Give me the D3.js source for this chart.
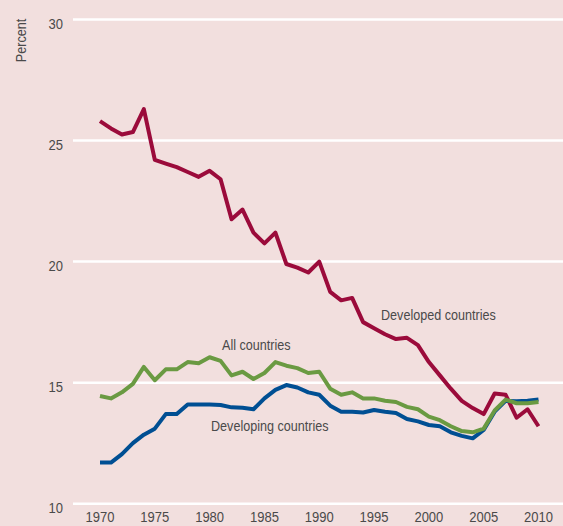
<!DOCTYPE html>
<html>
<head>
<meta charset="utf-8">
<script src="https://cdn.jsdelivr.net/npm/d3@7"></script>
<style>
	body { margin: 0; background: #f2dfde; }
	svg { display: block; }
	text { font-family: "Liberation Sans", Arial, sans-serif; fill: #4a4a4a; }
</style>
</head>
<body>
<script>

var years = [1970, 1971, 1972, 1973, 1974, 1975, 1976, 1977, 1978, 1979,
	1980, 1981, 1982, 1983, 1984, 1985, 1986, 1987, 1988, 1989,
	1990, 1991, 1992, 1993, 1994, 1995, 1996, 1997, 1998, 1999,
	2000, 2001, 2002, 2003, 2004, 2005, 2006, 2007, 2008, 2009, 2010];

var developed = [25.8, 25.5, 25.25, 25.35, 26.3, 24.2, 24.05, 23.9, 23.7, 23.5,
	23.75, 23.4, 21.75, 22.15, 21.2, 20.75, 21.2, 19.9, 19.75, 19.55,
	20.0, 18.75, 18.4, 18.5, 17.5, 17.25, 17.0, 16.8, 16.85, 16.55,
	15.85, 15.3, 14.75, 14.25, 13.95, 13.7, 14.55, 14.5, 13.55, 13.9, 13.2];

var allCountries = [14.45, 14.35, 14.6, 14.95, 15.65, 15.1, 15.55, 15.55, 15.85, 15.8,
	16.05, 15.9, 15.3, 15.45, 15.15, 15.4, 15.85, 15.7, 15.6, 15.4,
	15.45, 14.75, 14.5, 14.6, 14.35, 14.35, 14.25, 14.2, 14.0, 13.9,
	13.6, 13.45, 13.2, 13.0, 12.95, 13.1, 13.85, 14.3, 14.15, 14.15, 14.2];

var developing = [11.7, 11.7, 12.05, 12.5, 12.85, 13.1, 13.7, 13.7, 14.1, 14.1,
	14.1, 14.08, 13.98, 13.96, 13.9, 14.35, 14.7, 14.9, 14.8, 14.6,
	14.5, 14.05, 13.8, 13.8, 13.77, 13.87, 13.8, 13.75, 13.5, 13.4,
	13.25, 13.2, 12.95, 12.8, 12.7, 13.05, 13.8, 14.25, 14.23, 14.25, 14.3];

var yTicks = [10, 15, 20, 25, 30];
var xTicks = [1970, 1975, 1980, 1985, 1990, 1995, 2000, 2005, 2010];

var W = 563, H = 526;
var SQUEEZE = 0.84;   // fake a condensed face

var svg = d3.select("body").append("svg")
	.attr("width", W)
	.attr("height", H);

svg.append("rect")
	.attr("width", W)
	.attr("height", H)
	.style("fill", "#f2dfde");

var x = d3.scaleLinear().domain([1970, 2010]).range([100, 538.5]);
var y = d3.scaleLinear().domain([10, 30]).range([503.7, 19.5]);

// narrow text: place at (tx,ty) then squeeze horizontally
function narrowText(g, tx, ty, str, size, anchor, rot){
	return g.append("text")
		.attr("transform", "translate(" + tx + "," + ty + ")" + (rot ? " rotate(" + rot + ")" : "") + " scale(" + SQUEEZE + ",1)")
		.attr("text-anchor", anchor || "start")
		.attr("font-size", size + "px")
		.text(str);
}

/*
/	GRID + Y LABELS
*/
var grid = svg.append("g");
grid.selectAll("line").data(yTicks).enter().append("line")
	.attr("x1", 73)
	.attr("x2", W)
	.attr("y1", function(d){ return y(d); })
	.attr("y2", function(d){ return y(d); })
	.attr("stroke", "#ffffff")
	.attr("stroke-width", 2.5);

yTicks.forEach(function(d){
	narrowText(grid, 63, y(d) + 9, d, 15.5, "end");
});

/*
/	X LABELS
*/
var xg = svg.append("g");
xTicks.forEach(function(d){
	narrowText(xg, x(d), 522, d, 15.5, "middle");
});

narrowText(svg, 26, 40.5, "Percent", 15, "middle", -90);

/*
/	LINES
*/
var line = d3.line()
	.x(function(d, i){ return x(years[i]); })
	.y(function(d){ return y(d); });

var series = [
	{ vals: developed, color: "#9b0b3b" },
	{ vals: developing, color: "#004f93" },
	{ vals: allCountries, color: "#6a9a42" }
];

series.forEach(function(s){
	svg.append("path")
		.attr("d", line(s.vals))
		.attr("fill", "none")
		.attr("stroke", s.color)
		.attr("stroke-width", 4)
		.attr("stroke-linejoin", "round");
});

/*
/	SERIES LABELS
*/
narrowText(svg, 381, 320, "Developed countries", 15);
narrowText(svg, 222, 350, "All countries", 15);
narrowText(svg, 211, 431, "Developing countries", 15);

</script>
</body>
</html>
